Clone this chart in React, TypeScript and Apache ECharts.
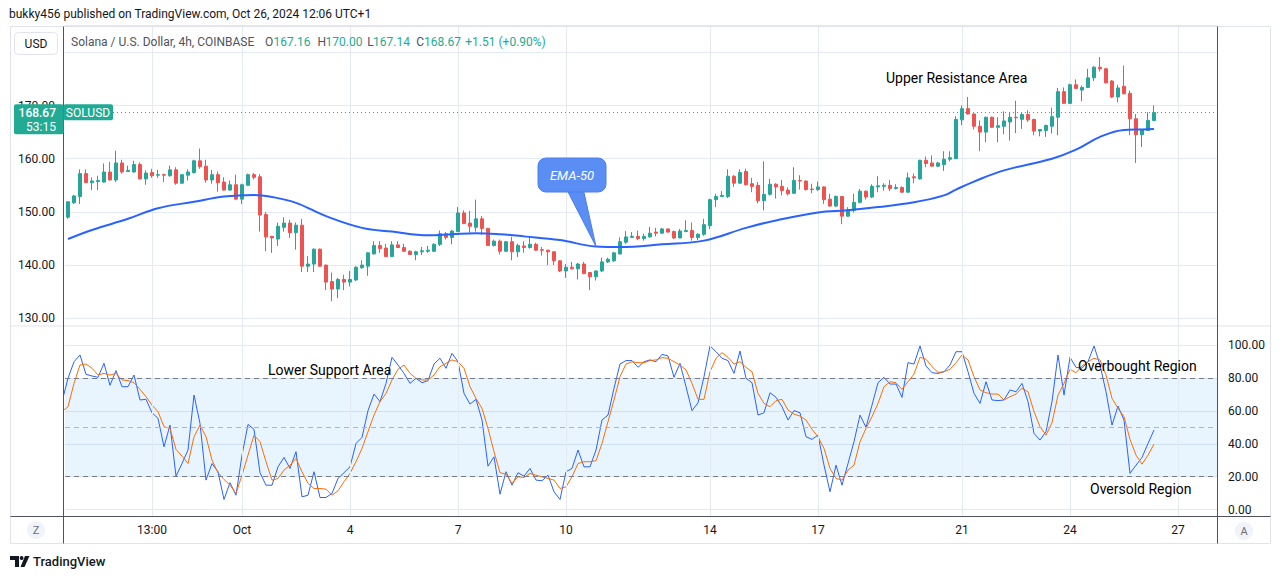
import React, { useEffect, useRef } from "react";
import * as echarts from "echarts";

const FONT = "Roboto, 'Noto Sans', sans-serif";
const UP = "#26a69a";
const DOWN = "#ef5350";
const TEAL = "#22ab94";
const GRID = "#e3eaf2";
const TEXT = "#131722";

// 4h candles, index 0 = first visible candle
const opens = [
  149.0, 151.7, 152.9, 157.2, 155.5, 155.7, 155.6, 157.5, 156.0, 159.2,
  157.6, 157.5, 158.9, 156.2, 157.4, 156.9, 157.0, 156.8, 157.9, 155.4,
  156.9, 157.4, 159.6, 158.6, 156.0, 157.0, 155.6, 154.1, 155.1, 152.4,
  155.0, 157.0, 156.6, 149.5, 145.4, 144.9, 147.1, 147.9, 146.1, 147.5,
  139.8, 140.2, 143.0, 140.0, 136.9, 135.5, 137.3, 136.8, 137.2, 139.5,
  139.8, 142.1, 143.7, 143.2, 141.6, 143.8, 143.3, 142.6, 142.0, 142.5,
  142.6, 142.6, 143.9, 145.9, 145.2, 146.3, 149.8, 147.9, 147.1, 148.7,
  146.9, 143.7, 144.5, 142.6, 144.4, 142.5, 143.6, 143.3, 143.9, 142.9,
  142.8, 142.5, 140.8, 138.9, 139.6, 139.3, 140.2, 138.6, 137.8, 138.9,
  140.6, 140.8, 142.1, 144.3, 145.2, 145.4, 145.0, 145.3, 146.2, 146.0,
  146.8, 146.3, 145.1, 146.3, 146.5, 145.2, 145.8, 147.4, 152.3, 152.9,
  152.9, 156.7, 155.4, 157.6, 155.3, 155.0, 152.1, 153.3, 155.2, 154.8,
  154.1, 153.5, 155.9, 155.8, 154.3, 154.2, 154.7, 152.4, 151.1, 152.9,
  149.2, 150.3, 151.8, 153.9, 152.8, 154.7, 154.8, 155.0, 154.4, 154.6,
  153.7, 156.6, 156.2, 159.7, 159.2, 158.6, 158.9, 159.9, 160.0, 167.3,
  169.4, 168.4, 166.1, 165.0, 167.8, 165.9, 166.1, 166.9, 167.8, 167.4,
  168.3, 167.4, 165.2, 165.3, 166.1, 167.8, 172.6, 170.4, 173.9, 172.9,
  173.4, 175.2, 177.2, 176.9, 174.6, 171.6, 173.6, 172.3, 167.5, 164.5,
  165.3, 167.16,
];
const closes = [
  151.9, 153.0, 157.2, 155.5, 155.8, 155.9, 157.5, 156.0, 159.2, 157.5,
  157.8, 158.9, 156.2, 157.3, 156.8, 157.0, 156.9, 157.9, 155.4, 157.0,
  157.5, 159.6, 158.5, 156.0, 157.0, 155.5, 154.1, 155.1, 152.4, 155.1,
  157.0, 156.5, 149.4, 145.3, 145.1, 147.3, 147.9, 146.1, 147.5, 139.8,
  140.2, 143.0, 139.8, 136.8, 135.5, 137.3, 136.8, 137.3, 139.6, 140.0,
  142.3, 143.7, 143.1, 141.6, 143.8, 143.3, 142.6, 142.0, 142.5, 142.7,
  142.8, 143.9, 145.9, 145.2, 146.4, 149.8, 147.8, 147.3, 148.7, 146.9,
  143.7, 144.5, 142.6, 144.4, 142.5, 143.7, 143.3, 143.9, 142.8, 142.8,
  142.5, 140.8, 138.9, 139.6, 139.3, 140.2, 138.4, 137.8, 138.9, 140.6,
  141.1, 142.3, 144.4, 145.3, 145.4, 145.0, 145.4, 146.0, 146.0, 146.8,
  146.2, 145.1, 146.4, 146.5, 145.2, 145.8, 147.6, 152.3, 152.9, 153.1,
  156.7, 155.4, 157.4, 155.1, 154.8, 152.1, 153.3, 155.2, 154.7, 154.0,
  153.4, 155.9, 155.8, 154.2, 154.2, 154.7, 152.3, 151.1, 152.9, 149.2,
  150.4, 151.8, 153.9, 152.8, 154.8, 154.9, 155.0, 154.4, 154.6, 153.7,
  156.4, 156.4, 159.7, 159.1, 158.6, 159.2, 159.9, 160.2, 167.4, 169.4,
  168.4, 166.1, 165.0, 167.8, 165.9, 166.2, 167.1, 167.8, 167.7, 168.3,
  167.3, 165.2, 165.5, 166.25, 167.9, 172.6, 170.4, 173.9, 173.2, 173.4,
  175.2, 177.2, 176.9, 174.25, 171.6, 173.3, 172.2, 167.5, 164.5, 165.5,
  167.2, 168.67,
];
const highs = [
  152.0, 153.2, 158.0, 158.0, 156.5, 156.8, 159.1, 159.4, 161.5, 159.8,
  158.7, 159.6, 159.3, 157.8, 158.1, 157.9, 157.2, 158.7, 158.4, 157.1,
  158.0, 159.8, 161.9, 159.8, 157.9, 157.6, 156.5, 155.9, 157.0, 155.3,
  157.2, 157.3, 157.1, 150.0, 145.5, 148.0, 149.0, 148.5, 148.0, 148.7,
  141.7, 143.1, 143.1, 140.1, 138.6, 137.6, 138.2, 138.9, 139.8, 140.9,
  142.4, 144.5, 144.5, 144.0, 144.5, 144.5, 144.0, 142.8, 142.7, 143.4,
  143.6, 144.1, 146.5, 146.2, 146.6, 150.9, 150.3, 150.2, 152.3, 149.2,
  147.0, 144.8, 144.8, 144.5, 145.3, 144.0, 144.5, 145.3, 144.2, 143.4,
  142.9, 142.6, 140.9, 140.2, 140.6, 140.4, 140.6, 138.7, 139.0, 141.4,
  141.4, 142.5, 145.2, 146.4, 146.2, 146.5, 145.9, 147.2, 147.0, 147.0,
  146.9, 146.5, 146.8, 148.4, 148.0, 146.0, 148.7, 152.5, 153.4, 153.9,
  158.0, 156.9, 158.0, 158.1, 156.4, 155.6, 159.5, 156.2, 155.4, 156.0,
  154.6, 158.4, 156.9, 155.9, 155.3, 155.7, 154.8, 153.4, 153.1, 153.0,
  150.9, 153.4, 154.3, 154.0, 155.2, 156.7, 155.4, 156.0, 155.2, 154.8,
  157.4, 157.2, 159.8, 160.4, 160.6, 159.4, 161.4, 161.4, 168.0, 170.0,
  171.6, 168.5, 167.2, 167.9, 167.9, 167.8, 168.9, 168.6, 170.9, 168.75,
  169.1, 167.5, 165.5, 166.4, 169.6, 173.3, 173.4, 174.1, 174.9, 173.75,
  176.9, 177.4, 179.1, 177.1, 174.8, 173.9, 177.5, 172.8, 168.4, 165.5,
  168.75, 170.0,
];
const lows = [
  148.7, 151.5, 151.5, 155.5, 154.1, 154.1, 155.5, 155.9, 155.6, 157.2,
  157.5, 157.4, 156.1, 155.1, 156.4, 156.4, 155.6, 156.6, 155.1, 155.3,
  155.9, 157.2, 158.1, 155.5, 155.3, 153.8, 154.0, 154.0, 152.3, 151.5,
  154.9, 156.1, 146.3, 142.6, 142.3, 143.6, 146.3, 145.1, 142.9, 138.7,
  138.7, 138.7, 139.7, 135.3, 133.2, 133.8, 135.3, 136.0, 137.0, 139.3,
  138.0, 142.0, 142.3, 141.5, 141.5, 143.2, 142.5, 141.9, 140.9, 141.9,
  142.3, 142.5, 143.6, 144.8, 143.9, 146.2, 147.7, 146.1, 146.3, 145.7,
  143.6, 143.5, 142.0, 142.5, 140.9, 141.5, 142.3, 143.1, 142.7, 141.8,
  140.0, 140.0, 138.7, 137.6, 139.2, 137.3, 138.3, 135.3, 137.1, 138.7,
  140.4, 140.6, 142.0, 144.0, 145.1, 144.7, 144.6, 145.2, 145.4, 145.9,
  146.1, 144.9, 145.1, 146.2, 144.6, 144.7, 145.5, 146.8, 150.9, 152.8,
  152.6, 154.7, 155.3, 155.0, 153.7, 151.6, 150.3, 153.1, 152.5, 153.1,
  153.1, 153.4, 154.2, 154.0, 153.5, 153.9, 151.5, 151.0, 150.9, 147.7,
  149.1, 149.9, 151.6, 152.3, 152.6, 153.7, 154.0, 153.9, 154.2, 153.6,
  153.6, 155.4, 156.1, 158.4, 158.5, 158.4, 157.7, 159.5, 159.9, 166.3,
  168.3, 165.5, 161.4, 163.1, 165.8, 163.1, 164.6, 163.4, 164.8, 165.6,
  166.9, 164.4, 164.2, 164.1, 164.7, 164.4, 170.3, 170.3, 173.1, 170.8,
  173.3, 174.6, 176.4, 174.2, 171.4, 170.6, 172.1, 164.4, 159.2, 162.2,
  165.2, 167.14,
];

// EMA-50 read at sample candles: [candle index, value]
const emaPoints = [
  [0, 144.9], [4, 146.6], [10, 148.7], [15, 150.7], [21, 151.9], [26, 152.9],
  [31, 153.2], [34, 152.8], [38, 151.7], [43, 149.2], [49, 147.0], [54, 146.3],
  [60, 145.6], [64, 145.8], [68, 146.0], [72, 145.8], [76, 145.4], [82, 144.7],
  [88, 143.5], [92, 143.4], [99, 143.9], [106, 144.6], [113, 147.0], [118, 148.4],
  [125, 149.9], [130, 150.3], [135, 150.9], [141, 151.8], [146, 153.1], [148, 154.2],
  [151, 155.7], [156, 157.8], [164, 160.0], [168, 161.7], [172, 164.1], [176, 165.4],
  [179, 165.5], [181, 165.6],
];

// Stochastic %K and %D, first value belongs to candle index STOCH_START
const STOCH_START = -1;
const stochK = [
  65.7,
  79.9, 90.0, 94.1, 82.3, 81.3, 80.5, 89.0, 75.6, 84.6, 74.8,
  74.8, 81.9, 66.7, 67.1, 58.9, 55.5, 38.2, 51.4, 20.3, 28.0,
  36.2, 69.7, 52.4, 17.9, 28.0, 23.0, 6.1, 16.3, 8.7, 33.1,
  51.8, 48.8, 22.4, 14.8, 14.8, 26.0, 31.7, 25.0, 35.2, 7.7,
  8.7, 23.0, 7.3, 7.3, 9.8, 18.9, 22.4, 26.0, 40.2, 43.9,
  60.2, 70.3, 65.7, 76.8, 92.7, 88.0, 82.9, 76.8, 79.9, 77.2,
  78.5, 88.6, 92.1, 86.0, 95.1, 90.0, 70.7, 64.2, 67.1, 54.5,
  26.4, 32.1, 9.3, 23.0, 14.8, 22.4, 20.3, 25.0, 17.9, 17.5,
  20.9, 10.8, 6.1, 23.0, 25.0, 36.2, 26.0, 26.0, 36.2, 54.5,
  57.5, 73.8, 88.6, 90.7, 90.7, 86.6, 90.0, 91.1, 90.0, 94.5,
  93.5, 80.5, 89.0, 74.8, 60.2, 65.0, 80.9, 99.6, 96.1, 92.1,
  90.7, 82.9, 96.5, 79.9, 77.2, 57.5, 58.9, 71.1, 68.3, 62.6,
  54.5, 60.2, 58.9, 44.3, 42.7, 45.3, 27.0, 10.8, 27.0, 14.8,
  28.0, 41.3, 57.5, 50.0, 63.6, 77.2, 80.5, 76.4, 76.4, 68.3,
  89.4, 88.6, 99.6, 87.4, 83.3, 82.9, 83.9, 88.0, 96.1, 96.1,
  83.9, 70.7, 64.6, 77.8, 66.7, 66.3, 66.7, 72.8, 71.7, 76.8,
  65.7, 46.3, 42.3, 47.4, 65.7, 94.1, 69.7, 92.7, 86.6, 86.0,
  90.0, 99.6, 88.0, 71.7, 51.4, 63.0, 54.5, 22.0, 27.0, 31.7,
  40.2, 48.4,
];
const stochD = [
  59.6,
  62.6, 76.8, 88.0, 88.6, 86.0, 81.9, 82.9, 81.9, 82.9, 78.9,
  78.5, 77.2, 73.2, 68.7, 63.6, 59.6, 50.4, 49.4, 36.6, 32.5,
  28.0, 44.3, 51.4, 44.3, 30.1, 22.4, 18.3, 14.8, 9.8, 20.9,
  33.1, 45.3, 41.3, 29.1, 17.9, 18.9, 24.0, 27.0, 31.1, 23.0,
  15.9, 12.8, 12.8, 12.4, 8.7, 11.4, 16.9, 22.0, 29.1, 37.2,
  47.4, 57.5, 65.7, 70.7, 78.9, 85.4, 88.0, 82.9, 79.9, 78.9,
  78.9, 81.9, 87.0, 89.0, 91.1, 90.0, 86.0, 74.8, 67.7, 61.6,
  49.4, 35.2, 22.4, 21.5, 15.9, 19.9, 19.5, 22.0, 20.9, 19.9,
  18.9, 17.9, 12.8, 13.8, 19.9, 28.0, 29.1, 29.1, 29.7, 40.2,
  53.5, 66.7, 80.9, 88.6, 90.0, 89.4, 89.4, 90.7, 91.1, 92.5,
  92.1, 90.0, 88.0, 85.0, 76.8, 67.1, 67.1, 83.9, 92.1, 95.5,
  92.7, 88.6, 90.0, 86.6, 83.9, 70.7, 64.6, 62.6, 66.3, 67.1,
  60.6, 58.1, 56.9, 54.5, 48.8, 44.3, 37.2, 25.0, 18.9, 17.9,
  24.0, 27.0, 41.3, 49.4, 56.5, 64.6, 74.8, 77.8, 77.2, 73.2,
  77.8, 82.5, 92.7, 91.5, 87.0, 83.5, 83.9, 85.4, 89.4, 94.1,
  91.1, 80.9, 72.8, 71.1, 70.3, 70.3, 66.7, 68.7, 70.3, 73.8,
  71.7, 59.6, 50.4, 45.3, 52.8, 69.7, 76.8, 85.4, 83.3, 87.4,
  90.0, 92.1, 91.1, 81.9, 67.7, 61.6, 56.5, 42.7, 33.1, 27.6,
  33.1, 39.8,
];

// time axis ticks: candle index -> label
const timeTickIndex = [14, 29, 47, 65, 83, 107, 125, 149, 167, 185];
const timeTickLabels = ["13:00", "Oct", "4", "7", "10", "14", "17", "21", "24", "27"];

const stochLevels = [80, 50, 20];
const SLOT_COUNT = 192;
const lastClose = closes[closes.length - 1];
const EMA_NOTE_INDEX = 88;

export default function App() {
  const ref = useRef<HTMLDivElement>(null);

  useEffect(() => {
    document.body.style.margin = "0";
    document.body.style.overflow = "hidden";
    if (!ref.current) return;
    const chart = echarts.init(ref.current, undefined, { renderer: "svg" });

    const slots = Array.from({ length: SLOT_COUNT }, (_, i) => String(i));
    const candles = opens.map((o, i) => [o, closes[i], lows[i], highs[i]]);
    const kData = stochK.map((v, j) => [j + STOCH_START, v]);
    const dData = stochD.map((v, j) => [j + STOCH_START, v]);
    const vLines = timeTickIndex.map((i) => ({ xAxis: i }));

    const option: any = {
      animation: false,
      backgroundColor: "#ffffff",
      grid: [
        { left: 65, top: 25.7, width: 1152, height: 292.6 },
        { left: 65, top: 345.3, width: 1152, height: 164.2 },
        { left: 65, top: 26.7, width: 1152, height: 299.3 },
        { left: 65, top: 326, width: 1152, height: 190.7 },
      ],
      xAxis: [
        { type: "category", gridIndex: 0, data: slots, show: false },
        { type: "value", gridIndex: 1, min: -0.5, max: SLOT_COUNT - 0.5, show: false },
        { type: "category", gridIndex: 2, data: slots, show: false },
        {
          type: "category",
          gridIndex: 3,
          data: slots,
          axisLine: { show: false },
          axisTick: { show: false },
          splitLine: { show: false },
          axisLabel: {
            interval: (index: number) => timeTickIndex.includes(index),
            formatter: (value: string) => {
              const k = timeTickIndex.indexOf(Number(value));
              return k >= 0 ? timeTickLabels[k] : "";
            },
            margin: 7,
            color: TEXT,
            fontSize: 12,
            fontFamily: FONT,
          },
        },
      ],
      yAxis: [
        {
          type: "value",
          gridIndex: 0,
          position: "left",
          min: 130,
          max: 185,
          interval: 10,
          axisLine: { show: false },
          axisTick: { show: false },
          splitLine: { lineStyle: { color: GRID, width: 1 } },
          axisLabel: {
            formatter: (v: number) => (v % 10 === 0 && v < 180 ? v.toFixed(2) : ""),
            margin: 10,
            color: TEXT,
            fontSize: 12,
            fontFamily: FONT,
          },
        },
        {
          type: "value",
          gridIndex: 1,
          position: "right",
          min: 0,
          max: 100,
          interval: 20,
          axisLine: { show: false },
          axisTick: { show: false },
          splitLine: { lineStyle: { color: GRID, width: 1 } },
          axisLabel: {
            formatter: (v: number) => v.toFixed(2),
            margin: 11,
            color: TEXT,
            fontSize: 12,
            fontFamily: FONT,
          },
        },
        { type: "value", gridIndex: 2, min: 0, max: 1, show: false },
        { type: "value", gridIndex: 3, min: 0, max: 1, show: false },
      ],
      series: [
        {
          type: "line",
          xAxisIndex: 2,
          yAxisIndex: 2,
          data: [],
          silent: true,
          z: 0,
          markLine: {
            silent: true,
            symbol: ["none", "none"],
            label: { show: false },
            lineStyle: { color: GRID, type: "solid", width: 1 },
            data: vLines,
          },
        },
        {
          type: "line",
          xAxisIndex: 3,
          yAxisIndex: 3,
          data: [],
          silent: true,
          z: 0,
          markLine: {
            silent: true,
            symbol: ["none", "none"],
            label: { show: false },
            lineStyle: { color: GRID, type: "solid", width: 1 },
            data: vLines,
          },
        },
        {
          type: "line",
          xAxisIndex: 1,
          yAxisIndex: 1,
          data: [],
          silent: true,
          z: 1,
          markArea: {
            silent: true,
            itemStyle: { color: "rgba(33,150,243,0.1)" },
            data: [[{ yAxis: stochLevels[2] }, { yAxis: stochLevels[0] }]],
          },
          markLine: {
            silent: true,
            symbol: ["none", "none"],
            label: { show: false },
            lineStyle: { color: "#787b86", type: [5, 4], width: 1 },
            data: stochLevels.map((v) => ({
              yAxis: v,
              lineStyle: v === 50 ? { color: "#b2b5be" } : {},
            })),
          },
        },
        {
          type: "candlestick",
          xAxisIndex: 0,
          yAxisIndex: 0,
          data: candles,
          barWidth: 4,
          z: 5,
          itemStyle: {
            color: UP,
            color0: DOWN,
            borderColor: UP,
            borderColor0: DOWN,
            borderWidth: 1,
          },
          markLine: {
            silent: true,
            symbol: ["none", "none"],
            label: { show: false },
            lineStyle: { color: TEAL, type: [1, 3], width: 1 },
            data: [{ yAxis: lastClose }],
          },
        },
        {
          type: "line",
          xAxisIndex: 0,
          yAxisIndex: 0,
          data: emaPoints,
          smooth: 0.4,
          showSymbol: false,
          silent: true,
          z: 6,
          lineStyle: { color: "#2962ff", width: 2 },
        },
        {
          type: "line",
          xAxisIndex: 1,
          yAxisIndex: 1,
          data: kData,
          showSymbol: false,
          silent: true,
          z: 3,
          lineStyle: { color: "#2962ff", width: 1 },
        },
        {
          type: "line",
          xAxisIndex: 1,
          yAxisIndex: 1,
          data: dData,
          showSymbol: false,
          silent: true,
          z: 4,
          lineStyle: { color: "#ff6d00", width: 1 },
        },
      ],
    };

    chart.setOption(option);

    const yLast = chart.convertToPixel({ xAxisIndex: 0, yAxisIndex: 0 } as any, [181, lastClose])[1];
    const tip = chart.convertToPixel(
      { xAxisIndex: 0, yAxisIndex: 0 } as any,
      [EMA_NOTE_INDEX, emaPoints[18][1]]
    );

    const txt = (text: string, x: number, y: number, extra: any = {}, z = 110) => ({
      type: "text",
      z,
      style: {
        text,
        x,
        y,
        fill: TEXT,
        fontSize: 12,
        fontFamily: FONT,
        textAlign: "left",
        textVerticalAlign: "middle",
        align: "left",
        verticalAlign: "middle",
        ...extra,
      },
    });
    const line = (x1: number, y1: number, x2: number, y2: number, stroke: string) => ({
      type: "line",
      z: 100,
      shape: { x1, y1, x2, y2 },
      style: { stroke, lineWidth: 1 },
    });

    const graphics: any[] = [
      // frame
      {
        type: "rect",
        z: 99,
        shape: { x: 10.5, y: 26.5, width: 1260, height: 517 },
        style: { fill: "none", stroke: "#e0e3eb", lineWidth: 1 },
      },
      line(10.5, 326, 1270.5, 326, "#e0e3eb"),
      line(63.5, 26.5, 63.5, 543.5, "#50535e"),
      line(1217.5, 26.5, 1217.5, 543.5, "#50535e"),
      line(10.5, 516.5, 1270.5, 516.5, "#50535e"),
      // header
      txt("bukky456 published on TradingView.com, Oct 26, 2024 12:06 UTC+1", 9, 14, { fontSize: 12 }),
      {
        type: "rect",
        z: 100,
        shape: { x: 14.5, y: 32.5, width: 43, height: 22, r: 4 },
        style: { fill: "#ffffff", stroke: "#e0e3eb", lineWidth: 1 },
      },
      txt("USD", 36, 44, { textAlign: "center", align: "center" }),
      txt("Solana / U.S. Dollar, 4h, COINBASE", 71, 42, { fill: "#50535e" }),
      txt("O", 265, 42, { fill: "#50535e" }),
      txt("167.16", 273.5, 42, { fill: TEAL }),
      txt("H", 317.6, 42, { fill: "#50535e" }),
      txt("170.00", 325.5, 42, { fill: TEAL }),
      txt("L", 367.3, 42, { fill: "#50535e" }),
      txt("167.14", 373, 42, { fill: TEAL }),
      txt("C", 416.3, 42, { fill: "#50535e" }),
      txt("168.67", 424, 42, { fill: TEAL }),
      txt("+1.51 (+0.90%)", 465.3, 42, { fill: TEAL }),
      // price label
      {
        type: "rect",
        z: 101,
        shape: { x: 14, y: yLast - 8.3, width: 49.5, height: 30, r: 2 },
        style: { fill: TEAL },
      },
      txt("168.67", 56, yLast, { fill: "#ffffff", textAlign: "right", align: "right", fontWeight: 500 }),
      txt("53:15", 56, yLast + 14, { fill: "#ffffff", textAlign: "right", align: "right" }),
      {
        type: "rect",
        z: 101,
        shape: { x: 63.5, y: yLast - 8.3, width: 49.5, height: 16, r: 2 },
        style: { fill: TEAL },
      },
      txt("SOLUSD", 88, yLast, { fill: "#ffffff", textAlign: "center", align: "center" }),
      // annotations
      txt("Upper Resistance Area", 886, 78, { fontSize: 14, fill: "#000000" }),
      txt("Lower Support Area", 268, 370, { fontSize: 14, fill: "#000000" }),
      txt("Overbought Region", 1078, 365.5, { fontSize: 14, fill: "#000000" }),
      txt("Oversold Region", 1090, 489, { fontSize: 14, fill: "#000000" }),
      // EMA-50 callout
      {
        type: "polygon",
        z: 100,
        shape: { points: [[566, 188], [583, 188], [tip[0], tip[1]]] },
        style: { fill: "#5b8ef5", stroke: "#4a7eeb", lineWidth: 1 },
      },
      {
        type: "rect",
        z: 101,
        shape: { x: 538, y: 158, width: 68, height: 34, r: 8 },
        style: { fill: "#5b8ef5", stroke: "#4a7eeb", lineWidth: 1 },
      },
      {
        type: "rect",
        z: 102,
        shape: { x: 567, y: 186, width: 15, height: 5 },
        style: { fill: "#5b8ef5" },
      },
      txt("EMA-50", 572, 175, {
        fill: "#ffffff",
        fontSize: 13,
        fontStyle: "italic",
        textAlign: "center",
        align: "center",
      }),
      // bottom buttons
      {
        type: "circle",
        z: 100,
        shape: { cx: 36, cy: 530, r: 9 },
        style: { fill: "#f0f3fa" },
      },
      txt("Z", 36, 530.5, { fill: "#6a6d78", fontSize: 11, textAlign: "center", align: "center" }),
      {
        type: "circle",
        z: 100,
        shape: { cx: 1244, cy: 531, r: 9 },
        style: { fill: "#f0f3fa" },
      },
      txt("A", 1244, 531.5, { fill: "#6a6d78", fontSize: 11, textAlign: "center", align: "center" }),
      // TradingView logo
      {
        type: "polygon",
        z: 100,
        shape: { points: [[10, 556], [19, 556], [19, 567], [15, 567], [15, 560], [10, 560]] },
        style: { fill: TEXT },
      },
      { type: "circle", z: 100, shape: { cx: 21.6, cy: 558, r: 1.9 }, style: { fill: TEXT } },
      {
        type: "polygon",
        z: 100,
        shape: { points: [[25, 556], [29.5, 556], [24.5, 567], [20.5, 567]] },
        style: { fill: TEXT },
      },
      txt("TradingView", 33, 561.5, { fontSize: 13, fontWeight: 500 }),
    ];

    chart.setOption({ graphic: graphics });

    return () => {
      chart.dispose();
    };
  }, []);

  return <div ref={ref} style={{ width: 1281, height: 579 }} />;
}
